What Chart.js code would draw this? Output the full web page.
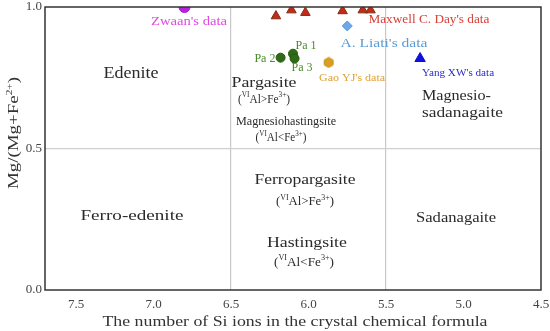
<!DOCTYPE html>
<html>
<head>
<meta charset="utf-8">
<script src="https://cdn.jsdelivr.net/npm/chart.js@4/dist/chart.umd.min.js"></script>
<style>
  html, body { margin: 0; padding: 0; background: #fff; }
  #wrap { width: 550px; height: 331px; }
</style>
</head>
<body>
<div id="wrap"><canvas id="c"></canvas></div>
<script>
// ── Data (x = Si per formula unit, y = Mg/(Mg+Fe2+)) ────────────────
const xTicks = [7.5, 7.0, 6.5, 6.0, 5.5, 5.0, 4.5];
const yTicks = [0.0, 0.5, 1.0];
const xBounds = [6.5, 5.5];

const zwaanX = [6.80];
const zwaanY = [1.00];
const maxwellX = [6.21, 6.11, 6.02, 5.78, 5.65, 5.60];
const maxwellY = [0.968, 0.989, 0.980, 0.986, 0.989, 0.989];
const liatiX = [5.75];
const liatiY = [0.933];
const paX = [6.10, 6.18, 6.09];
const paY = [0.835, 0.821, 0.818];
const gaoX = [5.87];
const gaoY = [0.804];
const yangX = [5.28];
const yangY = [0.818];

const FONT = "'Liberation Serif', serif";

// text notes: [text parts, x, y, size, width, color, align]
// a part written as ['^', 'str'] is a superscript
const notes = [
  [["Zwaan's data"], 6.771, 0.947, 11.5, 76, '#e048e0'],
  [["Maxwell C. Day's data"], 5.223, 0.954, 11.5, 121, '#d8403a'],
  [["A. Liati's data"], 5.513, 0.870, 11.5, 87, '#5b9bd5'],
  [["Pa 1"], 6.016, 0.863, 11.5, 21, '#4a8a2a'],
  [["Pa 2"], 6.281, 0.818, 11.5, 21, '#4a8a2a'],
  [["Pa 3"], 6.042, 0.786, 11.5, 21, '#4a8a2a'],
  [["Gao YJ's data"], 5.719, 0.747, 11, 66, '#e0a030'],
  [["Yang XW's data"], 5.035, 0.768, 11, 72, '#2a2acc'],
  [["Edenite"], 7.145, 0.765, 16, 55, '#2a2a2a'],
  [["Pargasite"], 6.287, 0.730, 15, 65, '#2a2a2a'],
  [["(", ['^', 'VI'], "Al>Fe", ['^', '3+'], ")"], 6.287, 0.674, 12.5, 52, '#2a2a2a'],
  [["Magnesiohastingsite"], 6.145, 0.593, 12, 100, '#2a2a2a'],
  [["(", ['^', 'VI'], "Al<Fe", ['^', '3+'], ")"], 6.177, 0.537, 12.5, 51, '#2a2a2a'],
  [["Magnesio-"], 5.268, 0.684, 14, 69, '#2a2a2a', 'left'],
  [["sadanagaite"], 5.268, 0.625, 14, 81, '#2a2a2a', 'left'],
  [["Ferro-edenite"], 7.139, 0.263, 15.5, 103, '#2a2a2a'],
  [["Ferropargasite"], 6.023, 0.389, 15, 101, '#2a2a2a'],
  [["(", ['^', 'VI'], "Al>Fe", ['^', '3+'], ")"], 6.023, 0.312, 13, 58, '#2a2a2a'],
  [["Sadanagaite"], 5.048, 0.256, 15.5, 80, '#2a2a2a'],
  [["Hastingsite"], 6.010, 0.165, 15, 80, '#2a2a2a'],
  [["(", ['^', 'VI'], "Al<Fe", ['^', '3+'], ")"], 6.029, 0.098, 13, 60, '#2a2a2a'],
];

const pts = (xs, ys) => xs.map((x, i) => ({ x, y: ys[i] }));

// hexagon marker for Gao YJ's data
function hexMarker(r, fill, stroke) {
  const cv = document.createElement('canvas');
  cv.width = cv.height = r * 2 + 2;
  const g = cv.getContext('2d');
  g.beginPath();
  for (let i = 0; i < 6; i++) {
    const a = Math.PI / 6 + i * Math.PI / 3;
    g.lineTo(r + 1 + r * Math.cos(a), r + 1 + r * Math.sin(a));
  }
  g.closePath();
  g.fillStyle = fill; g.fill();
  g.strokeStyle = stroke; g.lineWidth = 1; g.stroke();
  return cv;
}

// ── Rich text helper (superscripts, squeezed to a width) ────────────
function richWidth(ctx, parts, size) {
  let w = 0;
  parts.forEach(p => {
    if (Array.isArray(p)) { ctx.font = `${Math.round(size * 0.62)}px ${FONT}`; w += ctx.measureText(p[1]).width; }
    else { ctx.font = `${size}px ${FONT}`; w += ctx.measureText(p).width; }
  });
  return w;
}

function drawRich(ctx, parts, x, y, size, width, color, align) {
  const nat = richWidth(ctx, parts, size);
  const sx = width ? width / nat : 1;
  ctx.save();
  ctx.translate(x, y);
  ctx.scale(sx, 1);
  ctx.fillStyle = color;
  ctx.textBaseline = 'middle';
  ctx.textAlign = 'left';
  let cx = align === 'left' ? 0 : -nat / 2;
  parts.forEach(p => {
    if (Array.isArray(p)) {
      ctx.font = `${Math.round(size * 0.62)}px ${FONT}`;
      ctx.fillText(p[1], cx, -size * 0.32);
      cx += ctx.measureText(p[1]).width;
    } else {
      ctx.font = `${size}px ${FONT}`;
      ctx.fillText(p, cx, 0);
      cx += ctx.measureText(p).width;
    }
  });
  ctx.restore();
}

const notesPlugin = {
  id: 'notes',
  afterDatasetsDraw(chart) {
    const { ctx, chartArea: a, scales: { x, y } } = chart;
    // frame
    ctx.save();
    ctx.strokeStyle = '#333';
    ctx.lineWidth = 1.5;
    ctx.strokeRect(a.left, a.top, a.right - a.left, a.bottom - a.top);
    ctx.restore();
    notes.forEach(n => {
      drawRich(ctx, n[0], x.getPixelForValue(n[1]), y.getPixelForValue(n[2]), n[3], n[4], n[5], n[6]);
    });
    // axis titles
    drawRich(ctx, ['The number of Si ions in the crystal chemical formula'],
      295, 322, 14.5, 385, '#333');
    ctx.save();
    ctx.translate(14, 133);
    ctx.rotate(-Math.PI / 2);
    drawRich(ctx, ['Mg/(Mg+Fe', ['^', '2+'], ')'], 0, 0, 15, 112, '#333');
    ctx.restore();
  },
};

new Chart(document.getElementById('c'), {
  type: 'scatter',
  data: {
    datasets: [
      { label: "Zwaan's data", data: pts(zwaanX, zwaanY), pointStyle: 'circle', pointRadius: 5.5, clip: 0,
        backgroundColor: '#bb22e0', borderColor: '#a020cc', borderWidth: 1 },
      { label: "Maxwell C. Day's data", data: pts(maxwellX, maxwellY), pointStyle: 'triangle', pointRadius: 5.5, clip: 0,
        backgroundColor: '#c8281c', borderColor: '#7a3010', borderWidth: 1 },
      { label: "A. Liati's data", data: pts(liatiX, liatiY), pointStyle: 'rectRot', pointRadius: 5,
        backgroundColor: '#6fa8e8', borderColor: '#5a96dc', borderWidth: 1 },
      { label: 'Pa', data: pts(paX, paY), pointStyle: 'circle', pointRadius: 4.5,
        backgroundColor: '#2e6b14', borderColor: '#245a10', borderWidth: 1 },
      { label: "Gao YJ's data", data: pts(gaoX, gaoY), pointStyle: hexMarker(5, '#d9a020', '#c08a10'), pointRadius: 5 },
      { label: "Yang XW's data", data: pts(yangX, yangY), pointStyle: 'triangle', pointRadius: 6,
        backgroundColor: '#1010e0', borderColor: '#1010c0', borderWidth: 1 },
    ],
  },
  options: {
    responsive: true,
    maintainAspectRatio: false,
    animation: false,
    layout: { padding: { top: 5, right: 9, left: 0, bottom: 0 } },
    plugins: { legend: { display: false }, tooltip: { enabled: false } },
    scales: {
      x: {
        type: 'linear', reverse: true, min: 4.5, max: 7.7,
        afterBuildTicks: s => { s.ticks = xTicks.map(v => ({ value: v })); },
        afterFit: s => { s.height = 41; s.paddingLeft = 0; s.paddingRight = 0; },
        grid: {
          drawTicks: false,
          color: c => xBounds.includes(c.tick && c.tick.value) ? '#c8c8c8' : 'rgba(0,0,0,0)',
          lineWidth: 1.2,
        },
        border: { display: false },
        ticks: { padding: 7, color: '#444', font: { family: FONT, size: 13 },
                 maxRotation: 0, autoSkip: false, callback: v => Number(v).toFixed(1) },
      },
      y: {
        type: 'linear', min: 0, max: 1,
        afterBuildTicks: s => { s.ticks = yTicks.map(v => ({ value: v })); },
        afterFit: s => { s.width = 45; s.paddingTop = 0; s.paddingBottom = 0; },
        grid: {
          drawTicks: false,
          color: c => (c.tick && c.tick.value === 0.5) ? '#d0d0d0' : 'rgba(0,0,0,0)',
          lineWidth: 1.2,
        },
        border: { display: false },
        ticks: { padding: 3, color: '#444', font: { family: FONT, size: 13 },
                 callback: v => Number(v).toFixed(1) },
      },
    },
  },
  plugins: [notesPlugin],
});
</script>
</body>
</html>
